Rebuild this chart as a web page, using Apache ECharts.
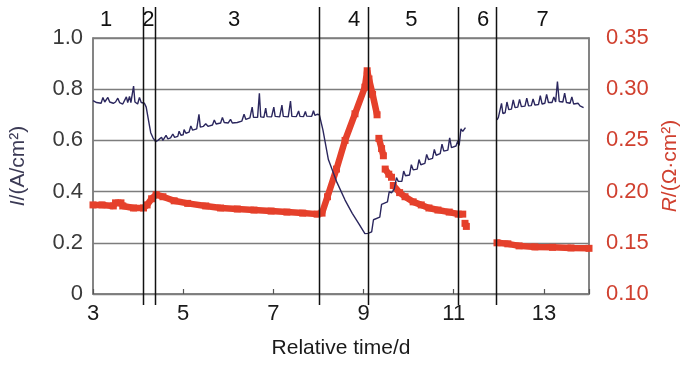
<!DOCTYPE html>
<html>
<head>
<meta charset="utf-8">
<script src="https://cdn.jsdelivr.net/npm/echarts@6/dist/echarts.min.js"></script>
<style>html,body{margin:0;padding:0;background:#fff}#c{width:700px;height:369px}</style>
</head>
<body>
<div id="c"></div>
<script>
// Tick labels
const xTicks = [3, 5, 7, 9, 11, 13];
const leftTicks = [0, 0.2, 0.4, 0.6, 0.8, 1.0];
const rightTicks = [0.10, 0.15, 0.20, 0.25, 0.30, 0.35];

// Phase boundaries (relative time, d) and phase labels
const phaseBounds = [4.10, 4.37, 8.02, 9.09, 11.10, 11.94];
const phaseNames = ['1', '2', '3', '4', '5', '6', '7'];
const phaseLabelAt = [3.29, 4.23, 6.13, 8.79, 10.06, 11.65, 12.97];

// Current density I (A/cm2), phases 1-5
const currentA = [
[3.00,0.755],[3.08,0.748],[3.12,0.752],[3.18,0.745],[3.22,0.768],[3.26,0.750],[3.30,0.748],[3.33,0.768],[3.37,0.750],[3.45,0.745],[3.50,0.750],[3.55,0.765],[3.59,0.748],[3.66,0.742],[3.70,0.746],[3.74,0.770],[3.77,0.748],[3.81,0.772],[3.84,0.748],[3.88,0.745],[3.90,0.812],[3.93,0.750],[3.99,0.742],[4.03,0.768],[4.07,0.748],[4.14,0.745],
[4.18,0.730],[4.21,0.700],[4.25,0.660],[4.28,0.630],[4.33,0.610],[4.39,0.595],
[4.44,0.600],[4.48,0.598],[4.52,0.612],[4.55,0.600],[4.62,0.620],[4.66,0.606],[4.72,0.610],[4.77,0.625],[4.81,0.612],[4.88,0.616],[4.91,0.636],[4.95,0.620],[5.00,0.622],[5.02,0.642],[5.06,0.628],[5.13,0.632],[5.17,0.656],[5.21,0.640],[5.30,0.645],[5.35,0.702],[5.38,0.652],[5.45,0.655],[5.50,0.665],[5.55,0.655],[5.65,0.660],[5.69,0.680],[5.73,0.664],[5.83,0.668],[5.87,0.690],[5.91,0.670],[6.00,0.668],[6.05,0.682],[6.09,0.668],[6.20,0.670],[6.30,0.675],[6.35,0.702],[6.39,0.682],[6.48,0.688],[6.53,0.730],[6.56,0.690],[6.65,0.690],[6.69,0.784],[6.72,0.692],[6.79,0.690],[6.83,0.726],[6.86,0.693],[6.96,0.692],[7.01,0.730],[7.04,0.694],[7.14,0.692],[7.19,0.738],[7.22,0.694],[7.33,0.692],[7.38,0.754],[7.41,0.694],[7.51,0.693],[7.56,0.715],[7.59,0.694],[7.67,0.693],[7.71,0.713],[7.74,0.695],[7.85,0.694],[7.89,0.716],[7.92,0.698],[7.97,0.702],[8.02,0.700],
[8.10,0.640],[8.22,0.525],[8.40,0.440],[8.59,0.367],[8.75,0.315],[8.89,0.276],[9.03,0.236],[9.10,0.237],[9.18,0.243],
[9.22,0.290],[9.26,0.285],[9.36,0.300],[9.40,0.350],[9.44,0.345],[9.53,0.360],[9.57,0.400],[9.62,0.395],[9.68,0.410],[9.73,0.455],[9.77,0.440],[9.85,0.440],[9.89,0.480],[9.93,0.462],[10.02,0.465],[10.06,0.505],[10.10,0.485],[10.19,0.488],[10.23,0.525],[10.27,0.505],[10.36,0.510],[10.40,0.545],[10.44,0.525],[10.53,0.530],[10.57,0.565],[10.61,0.542],[10.70,0.548],[10.74,0.585],[10.78,0.558],[10.87,0.562],[10.91,0.610],[10.95,0.572],[11.05,0.578],[11.09,0.598],[11.12,0.580],[11.16,0.645],[11.20,0.635],[11.26,0.650]
];
// Current density I, phase 7
const currentB = [
[11.96,0.680],[11.99,0.690],[12.03,0.688],[12.06,0.745],[12.09,0.705],[12.14,0.708],[12.18,0.750],[12.22,0.720],[12.28,0.722],[12.32,0.758],[12.36,0.728],[12.42,0.730],[12.46,0.760],[12.50,0.732],[12.58,0.734],[12.62,0.765],[12.66,0.735],[12.72,0.736],[12.76,0.762],[12.80,0.738],[12.88,0.740],[12.92,0.775],[12.96,0.742],[13.02,0.745],[13.06,0.780],[13.10,0.748],[13.18,0.748],[13.22,0.770],[13.26,0.750],[13.30,0.830],[13.34,0.752],[13.42,0.750],[13.46,0.785],[13.50,0.748],[13.58,0.745],[13.62,0.770],[13.66,0.742],[13.76,0.745],[13.80,0.735],[13.88,0.728]
];

// Resistance R (ohm cm2), segments
const resistA = [[3.00,0.187],[3.20,0.187],[3.45,0.186],[3.50,0.189],[3.62,0.189],[3.66,0.186],[3.90,0.184],[4.12,0.184],[4.20,0.187],[4.30,0.193],[4.40,0.197],[4.55,0.195],[4.80,0.191],[5.10,0.1885],[5.50,0.186],[5.83,0.184],[6.20,0.183],[6.57,0.182],[6.95,0.181],[7.30,0.180],[7.65,0.179],[7.97,0.178],[8.08,0.179],[8.20,0.195],[8.40,0.222],[8.59,0.250],[8.81,0.276],[9.03,0.302],[9.08,0.318],[9.12,0.310],[9.20,0.295],[9.30,0.275]];
const resistB = [[9.34,0.252],[9.40,0.242],[9.44,0.235]];
const resistC = [[9.48,0.222],[9.56,0.217],[9.62,0.214]];
const resistD = [[9.66,0.206],[9.80,0.199],[9.92,0.195],[10.10,0.190],[10.28,0.187],[10.45,0.184],[10.65,0.182],[10.90,0.180],[11.10,0.178],[11.20,0.178]];
const resistE = [[11.25,0.169],[11.28,0.166]];
const resistF = [[11.96,0.150],[12.20,0.149],[12.45,0.147],[12.80,0.146],[13.19,0.1456],[13.60,0.145],[14.00,0.1446]];

const FONT = '"Liberation Sans", Arial, sans-serif';
const RED = '#e5402b';
const RED_TXT = '#d0402f';
const NAVY = '#2b275e';
const GRIDC = '#7d7d7d';

const chart = echarts.init(document.getElementById('c'), null, {renderer: 'canvas'});

function redSeries(d) {
  return {type: 'line', yAxisIndex: 1, data: d, showSymbol: true, symbol: 'rect', symbolSize: 7,
    itemStyle: {color: RED, borderWidth: 0},
    lineStyle: {color: RED, width: 6.5, cap: 'butt', join: 'bevel'}, z: 3, silent: true, animation: false};
}

chart.setOption({
  animation: false,
  textStyle: {fontFamily: FONT},
  grid: {left: 90, right: 111, top: 38, bottom: 75, show: true, borderColor: GRIDC, borderWidth: 1.5, backgroundColor: 'transparent'},
  xAxis: {
    type: 'value', min: 3, max: 14, interval: 2,
    axisLine: {show: true, lineStyle: {color: GRIDC, width: 1.5}},
    axisTick: {show: true, inside: true, length: 5, lineStyle: {color: '#555', width: 1.2}},
    splitLine: {show: false},
    axisLabel: {fontSize: 22, color: '#1a1a1a', margin: 9, fontFamily: FONT,
      formatter: v => xTicks.indexOf(Math.round(v)) >= 0 && Math.abs(v - Math.round(v)) < 1e-6 ? String(Math.round(v)) : ''},
    name: 'Relative time/d', nameLocation: 'middle', nameGap: 44,
    nameTextStyle: {fontSize: 21, color: '#1a1a1a', fontFamily: FONT}
  },
  yAxis: [{
    type: 'value', min: 0, max: 1, interval: 0.2, position: 'left',
    axisLine: {show: true, lineStyle: {color: GRIDC, width: 1.5}},
    axisTick: {show: false},
    splitLine: {show: true, lineStyle: {color: GRIDC, width: 1.3}},
    axisLabel: {fontSize: 22, color: '#3a3a3a', margin: 10, fontFamily: FONT,
      formatter: v => { const t = leftTicks.find(k => Math.abs(k - v) < 1e-6); return t === undefined ? '' : (t === 0 ? '0' : t.toFixed(1)); }},
    name: '{i|I}/(A/cm²)', nameLocation: 'middle', nameRotate: 90, nameGap: 64,
    nameTextStyle: {fontSize: 21, color: '#3b3a55', fontFamily: FONT,
      rich: {i: {fontStyle: 'italic', fontSize: 21, color: '#3b3a55', fontFamily: FONT}}}
  }, {
    type: 'value', min: 0.10, max: 0.35, interval: 0.05, position: 'right',
    axisLine: {show: true, lineStyle: {color: GRIDC, width: 1.5}},
    axisTick: {show: false},
    splitLine: {show: false},
    axisLabel: {fontSize: 22, color: RED_TXT, margin: 17, fontFamily: FONT,
      formatter: v => { const t = rightTicks.find(k => Math.abs(k - v) < 1e-6); return t === undefined ? '' : t.toFixed(2); }},
    name: '{i|R}/(Ω·cm²)', nameLocation: 'middle', nameRotate: 90, nameGap: 51,
    nameTextStyle: {fontSize: 21, color: RED_TXT, fontFamily: FONT,
      rich: {i: {fontStyle: 'italic', fontSize: 21, color: RED_TXT, fontFamily: FONT}}}
  }],
  series: [
    redSeries(resistA), redSeries(resistB), redSeries(resistC), redSeries(resistD), redSeries(resistE), redSeries(resistF),
    {type: 'line', yAxisIndex: 0, data: currentA, showSymbol: false, symbol: 'none', lineStyle: {color: NAVY, width: 1.4}, z: 4},
    {type: 'line', yAxisIndex: 0, data: currentB, showSymbol: false, symbol: 'none', lineStyle: {color: NAVY, width: 1.4}, z: 4}
  ]
});

// Phase boundary lines and labels, placed through the axis scales
const yTop = chart.convertToPixel({yAxisIndex: 0}, 1.0);
const yBot = chart.convertToPixel({yAxisIndex: 0}, 0);
const graphics = [];
phaseBounds.forEach(b => {
  const x = Math.round(chart.convertToPixel({xAxisIndex: 0}, b)) + 0.5;
  graphics.push({type: 'line', shape: {x1: x, y1: yTop - 31, x2: x, y2: yBot + 11},
    style: {stroke: '#111', lineWidth: 1.5}, z: 10, silent: true});
});
phaseNames.forEach((n, i) => {
  const x = chart.convertToPixel({xAxisIndex: 0}, phaseLabelAt[i]);
  graphics.push({type: 'text', x: x, y: yTop - 18, style: {text: n, fill: '#111', font: '22px ' + FONT, align: 'center', verticalAlign: 'middle'}, z: 10, silent: true});
});
chart.setOption({graphic: graphics});
</script>
</body>
</html>
